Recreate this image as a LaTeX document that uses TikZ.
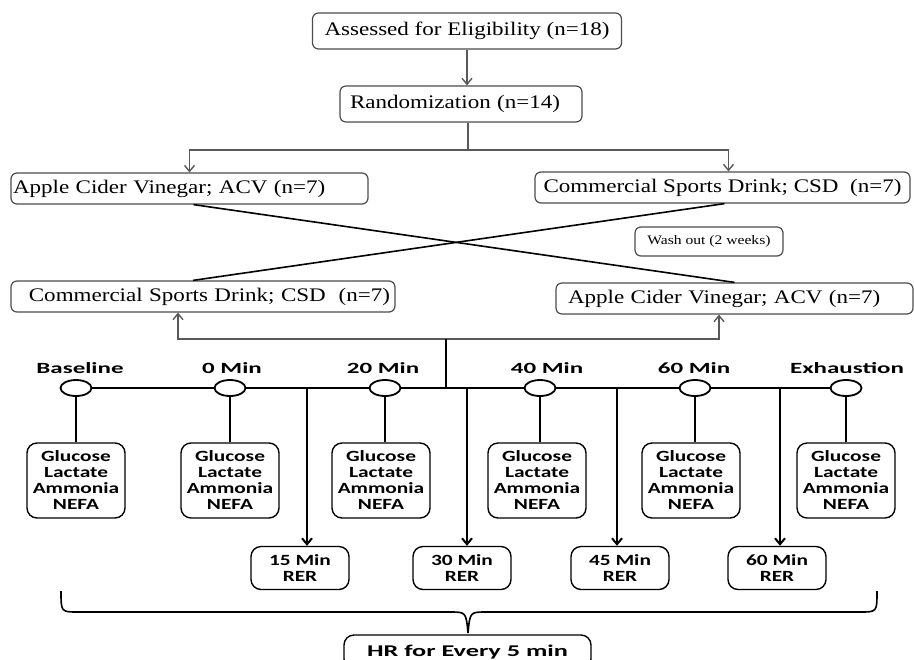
\documentclass[tikz,border=0pt]{standalone}
\usepackage{fontspec}
\setmainfont[FakeStretch=1.2]{Liberation Serif}
\newfontfamily\labelfont[FakeStretch=1.6]{Carlito}
\newfontfamily\testfont[FakeStretch=1.37]{Carlito}
\usetikzlibrary{arrows.meta,shapes.geometric}

\begin{document}
\begin{tikzpicture}[x=0.5pt,y=-0.5pt,
  box/.style={draw=black!70, line width=0.6pt, rounded corners=3pt, inner ysep=0pt, inner xsep=1pt, align=center, font=\fontsize{9.6}{11}\selectfont},
  link/.style={draw=black!65, line width=0.7pt},
  arr/.style={link, -{Straight Barb[length=3pt,width=5pt]}},
  cross/.style={line width=0.8pt},
  stamp/.style={font=\labelfont\bfseries\fontsize{7.8}{8}\selectfont},
  stop/.style={draw, ellipse, minimum width=15.5pt, minimum height=8pt, inner sep=0pt, line width=0.9pt, fill=white},
  test/.style={draw, rounded corners=5pt, line width=0.7pt, minimum width=49pt, minimum height=37.5pt, align=center, inner sep=0pt, font=\testfont\bfseries\fontsize{7.8}{8}\selectfont},
  rer/.style={test, minimum height=21.5pt},
  bond/.style={line width=1pt},
  bondarr/.style={bond, -{Straight Barb[length=3pt,width=5pt]}},
  brace/.style={line width=0.8pt}]
\useasboundingbox (0,0) rectangle (914,659);

% enrolment and cross-over
\node[box, minimum width=154.5pt, minimum height=18pt] (elig) at (467,31) {Assessed for Eligibility (n=18)};
\node[box, text width=111pt, inner xsep=5pt, align=left, minimum height=18pt] (rand) at (461,104) {Randomization (n=14)};
\node[box, text width=176.5pt, align=left, minimum height=15.5pt] (acvA) at (189.5,188.5) {Apple Cider Vinegar; ACV (n=7)};
\node[box, minimum width=187.5pt, minimum height=15.5pt] (csdA) at (722.5,187.5) {Commercial Sports Drink; CSD\ \ (n=7)};
\node[box, minimum width=74pt, minimum height=14.5pt, font=\fontsize{6.5}{8}\selectfont] (wash) at (709,241.5) {Wash out (2 weeks)};
\node[box, text width=187pt, inner xsep=2.5pt, align=right, minimum height=15.5pt] (csdB) at (203,296.5) {Commercial Sports Drink; CSD\ \ (n=7)};
\node[box, text width=166.5pt, inner xsep=6pt, align=left, minimum height=15.5pt] (acvB) at (734.5,298.5) {Apple Cider Vinegar; ACV (n=7)};

\draw[arr] (elig) -- (elig |- rand.north);
\coordinate (split) at (468,150);
\draw[link] (split |- rand.south) -- (split);
\draw[arr] (split) -| (acvA.north);
\draw[arr] (split) -| ([xshift=3pt]csdA.north);
\draw[cross] ([xshift=2pt]acvA.south) -- (acvB.north);
\draw[cross] ([xshift=1pt]csdA.south) -- ([xshift=-5pt]csdB.north);
\coordinate (join) at (446,339);
\draw[arr] (join) -| ([xshift=-12.5pt]csdB.south);
\draw[arr] (join) -| ([xshift=-7.75pt]acvB.south);

% time line with blood samples
\foreach \i/\cx/\gx/\lx/\txt in {1/76/76/80/Baseline,2/230/230/232/0 Min,3/385/381/383/20 Min,4/540/537/547/40 Min,5/695/691/694/60 Min,6/846/846/847/Exhaustion}{
  \node[stop] (c\i) at (\cx,388) {};
  \node[stamp] (l\i) at (\lx,368) {\txt};
  \node[test] (g\i) at (\gx,480.5) {Glucose\\Lactate\\Ammonia\\NEFA};
  \draw[bond] (c\i.south) -- (c\i.south |- g\i.north);
}
\draw[bond] (join) -- (join |- c1);
\foreach \i [count=\j from 2] in {1,...,5}
  \draw[bond] (c\i) -- (c\j);

% RER samples
\foreach \i/\tx/\rx/\t in {1/307/300/15,2/467/462/30,3/617/620/45,4/780/777/60}{
  \coordinate (t\i) at (\tx,388);
  \node[rer] (r\i) at (\rx,568) {\t\ Min\\RER};
  \draw[bondarr] (t\i) -- (t\i |- r\i.north);
}

% heart rate
\coordinate (bl) at (61,591);
\coordinate (br) at (877,591);
\coordinate (tip) at (468,633);
\draw[brace] (bl) .. controls (61,612) .. (78,612) -- (450,612) .. controls (466,612) .. (tip);
\draw[brace] (br) .. controls (877,612) .. (860,612) -- (486,612) .. controls (470,612) .. (tip);
\node[test, minimum width=123.5pt, minimum height=17pt, font=\labelfont\bfseries\fontsize{8.2}{10}\selectfont] (hr) at (467.5,652) {HR for Every 5 min};
\end{tikzpicture}
\end{document}
